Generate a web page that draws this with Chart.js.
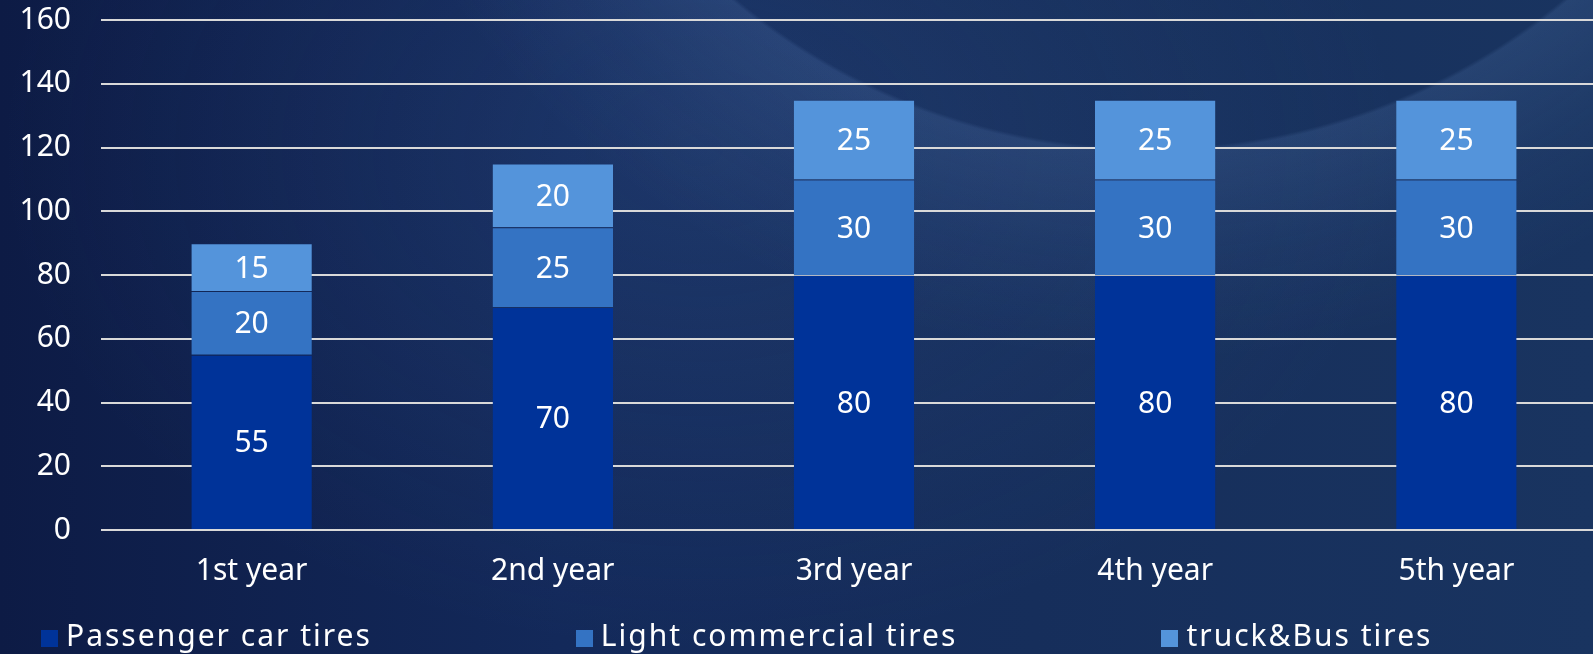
<!DOCTYPE html>
<html>
<head>
<meta charset="utf-8">
<script src="https://cdn.jsdelivr.net/npm/chart.js@4"></script>
<style>
html,body{margin:0;padding:0;width:1593px;height:654px;overflow:hidden}
body{
background:
radial-gradient(circle at 1150px -500px, rgba(0,0,0,0) 0px, rgba(0,0,0,0) 648px, rgba(110,150,210,0.16) 652px, rgba(110,150,210,0.06) 760px, rgba(0,0,0,0) 860px),
radial-gradient(ellipse 700px 500px at 700px 150px, rgba(70,110,170,0.18), rgba(0,0,0,0) 100%),
linear-gradient(90deg,#0d1b45 0%,#13295a 35%,#162e5b 65%,#193460 100%);
font-family:"Noto Sans",sans-serif;
}
#wrap{position:absolute;left:0;top:0;width:1607px;height:654px}
#legend{position:absolute;left:41px;top:615px;display:flex;gap:204px;color:#fff;font-size:30px;line-height:40px;letter-spacing:2px}
#legend .item{display:flex;align-items:center;white-space:nowrap}
#legend .box{width:17px;height:17px;margin-right:8px;margin-top:6px}
</style>
</head>
<body>
<div id="wrap"><canvas id="tireChart"></canvas></div>
<div id="legend"></div>
<script>
const years = ["1st year","2nd year","3rd year","4th year","5th year"]
const passengerCar = [55,70,80,80,80]
const lightCommercial = [20,25,30,30,30]
const truckBus = [15,20,25,25,25]
const seriesNames = ["Passenger car tires","Light commercial tires","truck&Bus tires"]
const seriesColors = ["#003399","#3473c3","#5494db"]
const yTicks = [0,20,40,60,80,100,120,140,160]

// value labels in the middle of each segment
const valueLabels = {
id:"valueLabels",
afterDatasetsDraw(chart){
const c = chart.ctx
c.save()
c.fillStyle = "#ffffff"
c.font = "30px 'Noto Sans'"
c.textAlign = "center"
c.textBaseline = "middle"
chart.data.datasets.forEach((ds,i)=>{
chart.getDatasetMeta(i).data.forEach((bar,j)=>{
const p = bar.getProps(["x","y","base"],true)
c.fillText(String(ds.data[j]), p.x, (p.y+p.base)/2 + 2)
})
})
c.restore()
}
}

const ctx = document.getElementById("tireChart").getContext("2d")

const tireChart = new Chart(ctx,{
type:"bar",
data:{
labels:years,
datasets:[passengerCar,lightCommercial,truckBus].map((d,i)=>({
label:seriesNames[i],
data:d,
backgroundColor:seriesColors[i],
borderColor:"rgba(20,50,110,0.2)",
borderWidth:{top:1,bottom:0,left:0,right:0},
categoryPercentage:1,
barPercentage:0.4
}))
},
plugins:[valueLabels],
options:{
responsive:true,
maintainAspectRatio:false,
animation:false,
layout:{padding:{top:20,right:0,bottom:50,left:0}},
plugins:{legend:{display:false},tooltip:{enabled:false}},
scales:{
x:{
stacked:true,
grid:{display:false},
border:{display:false},
ticks:{color:"#ffffff",font:{family:"Noto Sans",size:30},padding:15}
},
y:{
stacked:true,
min:0,
max:160,
afterBuildTicks(axis){ axis.ticks = yTicks.map(v=>({value:v})) },
afterFit(axis){ axis.width = 101; axis.paddingTop = 0; axis.paddingBottom = 0 },
grid:{color:"#d9d9d9",lineWidth:2,drawTicks:false},
border:{display:false},
ticks:{color:"#ffffff",font:{family:"Noto Sans",size:30},padding:30}
}
}
}
})

// legend built from the datasets
const legendEl = document.getElementById("legend")
tireChart.data.datasets.forEach(ds=>{
const item = document.createElement("div")
item.className = "item"
const box = document.createElement("span")
box.className = "box"
box.style.background = ds.backgroundColor
const txt = document.createElement("span")
txt.textContent = ds.label
item.appendChild(box)
item.appendChild(txt)
legendEl.appendChild(item)
})
</script>
</body>
</html>
